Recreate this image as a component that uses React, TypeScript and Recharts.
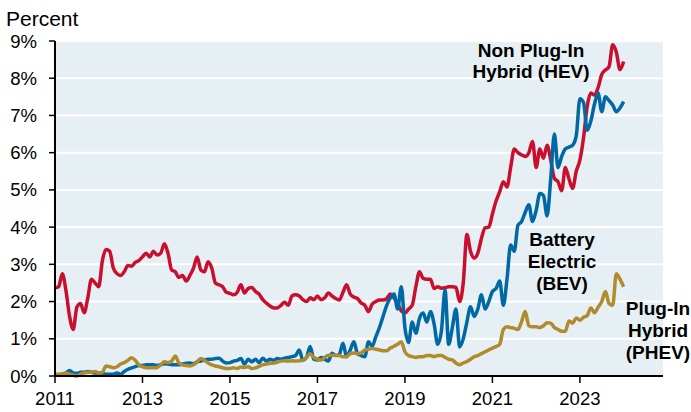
import { LineChart, Line, XAxis, YAxis, CartesianGrid } from 'recharts';

const START_YEAR = 2011;
const yearTicks = [2011, 2013, 2015, 2017, 2019, 2021, 2023];
const pctTicks = [0, 1, 2, 3, 4, 5, 6, 7, 8, 9];

// monthly shares, Jan 2011 onward (percent)
const hev = [
  2.37, 2.4, 2.75, 2.3, 1.6, 1.25, 1.85, 1.95, 1.7, 2.1, 2.6, 2.5,
  2.4, 3.1, 3.4, 3.35, 2.9, 2.75, 2.7, 2.8, 2.97, 2.95, 3.05, 3.1,
  3.2, 3.3, 3.2, 3.35, 3.25, 3.3, 3.55, 3.3, 2.85, 2.8, 2.65, 2.7,
  2.55, 2.7, 2.9, 3.2, 2.85, 2.8, 3.07, 2.9, 2.5, 2.45, 2.4, 2.25,
  2.22, 2.18, 2.25, 2.45, 2.23, 2.35, 2.38, 2.27, 2.2, 2.05, 1.96, 1.88,
  1.83, 1.83, 1.9, 1.98, 1.9, 2.15, 2.18, 2.15, 2.05, 2.0, 2.1, 2.05,
  2.15, 2.05, 2.1, 2.23, 2.15, 2.08, 2.04, 2.25, 2.45, 2.2, 2.12, 2.08,
  1.96, 1.9, 1.73, 1.93, 2.0, 2.04, 2.04, 2.08, 2.2, 2.1, 1.95, 1.75,
  1.69, 1.8, 1.9, 2.4, 2.8, 2.62, 2.6, 2.6, 2.35, 2.4, 2.36, 2.37,
  2.4, 2.4, 2.38, 2.0, 2.5, 3.8, 3.35, 3.17, 3.3, 3.7, 3.98, 4.0,
  4.35, 4.7, 4.95, 5.22, 5.08, 5.6, 6.1, 6.0, 5.94, 5.9, 6.0, 6.3,
  5.6, 6.1, 5.85, 6.2, 5.8, 5.31, 5.22, 4.98, 5.6, 5.3, 5.04, 5.5,
  5.8, 6.4, 7.24, 7.6, 7.55, 7.75, 8.1, 8.22, 8.31, 8.9, 8.7, 8.23,
  8.45,
];

const bev = [
  0.02, 0.02, 0.03, 0.08, 0.15, 0.08, 0.07, 0.1, 0.1, 0.12, 0.1, 0.08,
  0.08, 0.06, 0.05, 0.05, 0.05, 0.08, 0.05, 0.12, 0.18, 0.22, 0.25, 0.28,
  0.28, 0.3, 0.3, 0.3, 0.28, 0.3, 0.33, 0.32, 0.3, 0.3, 0.3, 0.32,
  0.34, 0.35, 0.33, 0.38, 0.4, 0.43, 0.45, 0.45, 0.47, 0.48, 0.4, 0.35,
  0.36, 0.4, 0.42, 0.47, 0.32, 0.45, 0.38, 0.45, 0.36, 0.48, 0.4, 0.45,
  0.42, 0.47, 0.45, 0.48, 0.5, 0.52, 0.55, 0.7, 0.43, 0.5, 0.79, 0.45,
  0.43, 0.5, 0.45, 0.4, 0.61, 0.55, 0.58, 0.88, 0.52, 0.7, 0.92, 0.6,
  0.55, 0.52, 0.92, 0.8, 1.05, 1.3, 1.6, 1.9, 2.1, 2.2, 1.8, 2.4,
  1.3, 0.9, 1.45, 1.15, 1.55, 1.69, 1.45, 1.73, 1.4, 0.85, 1.2, 2.31,
  0.85, 1.3, 1.8, 0.78, 1.0, 1.45, 1.86, 1.6, 1.8, 2.18, 1.8, 2.0,
  2.27, 2.35, 2.55, 1.9, 2.6, 3.52, 3.35, 4.05, 4.15, 4.4, 4.6, 4.15,
  4.45, 4.9, 4.85, 4.3, 5.3, 6.5, 5.6, 5.9, 6.1, 6.15, 6.2, 6.45,
  7.45, 7.35, 6.6, 6.85, 7.3, 7.6, 7.1, 7.5, 7.4, 7.28, 7.1, 7.2,
  7.37,
];

const phev = [
  0.05, 0.05, 0.06, 0.08, 0.05, 0.02, 0.0, 0.05, 0.08, 0.1, 0.1, 0.12,
  0.08, 0.1, 0.27, 0.25, 0.22, 0.25, 0.32, 0.36, 0.42, 0.49, 0.42, 0.3,
  0.25, 0.22, 0.22, 0.22, 0.23, 0.3, 0.38, 0.36, 0.4, 0.54, 0.35, 0.3,
  0.28, 0.27, 0.3, 0.38, 0.47, 0.42, 0.35, 0.3, 0.27, 0.25, 0.22, 0.2,
  0.2, 0.22, 0.2, 0.24, 0.23, 0.25, 0.2, 0.22, 0.26, 0.3, 0.32, 0.34,
  0.35, 0.37, 0.4, 0.41, 0.4, 0.41, 0.4, 0.41, 0.42, 0.5, 0.6, 0.5,
  0.45, 0.43, 0.5, 0.56, 0.55, 0.56, 0.55, 0.52, 0.52, 0.6, 0.62, 0.6,
  0.62, 0.7, 0.72, 0.74, 0.72, 0.7, 0.68, 0.68, 0.75, 0.8, 0.85, 0.92,
  0.65, 0.55, 0.52, 0.5, 0.52, 0.52, 0.55, 0.55, 0.52, 0.55, 0.55, 0.5,
  0.45, 0.43, 0.35, 0.3, 0.35, 0.39, 0.45, 0.52, 0.55, 0.6, 0.65, 0.7,
  0.75, 0.79, 0.85, 1.25, 1.32, 1.3, 1.28, 1.25, 1.46, 1.73, 1.35, 1.32,
  1.32, 1.3, 1.35, 1.43, 1.42, 1.3, 1.25, 1.2, 1.2, 1.48, 1.42, 1.56,
  1.5, 1.58, 1.62, 1.83, 1.7, 1.85, 2.0, 2.27, 1.95, 1.9, 2.75, 2.6,
  2.4,
];

const data = hev.map((v, i) => ({
  t: START_YEAR + i / 12,
  hev: v,
  bev: bev[i],
  phev: phev[i],
}));

const FONT = '"Liberation Sans", Arial, sans-serif';

export default function App() {
  return (
    <div style={{ position: 'absolute', left: 0, top: 0, width: 691, height: 412, background: '#fff', fontFamily: FONT }}>
      <LineChart width={691} height={412} data={data} margin={{ top: 41, right: 28, bottom: 0, left: 0 }}>
        <CartesianGrid vertical={false} stroke="#fff" strokeWidth={2} fill="#E6EFF3" />
        <XAxis
          dataKey="t"
          type="number"
          domain={[2011, 2024.9]}
          ticks={yearTicks}
          allowDataOverflow
          height={36}
          tickSize={7}
          tickMargin={9}
          axisLine={{ stroke: '#000', strokeWidth: 2 }}
          tickLine={{ stroke: '#000', strokeWidth: 1.5 }}
          tick={{ fill: '#000', fontSize: 18.5, fontFamily: FONT }}
        />
        <YAxis
          type="number"
          domain={[0, 9]}
          ticks={pctTicks}
          width={55}
          tickSize={6}
          tickMargin={12}
          tickFormatter={(v) => `${v}%`}
          axisLine={{ stroke: '#000', strokeWidth: 2 }}
          tickLine={{ stroke: '#000', strokeWidth: 1.5 }}
          tick={{ fill: '#000', fontSize: 18.5, fontFamily: FONT }}
        />
        <Line type="monotone" dataKey="hev" stroke="#C8102E" strokeWidth={3.5} dot={false} isAnimationActive={false} />
        <Line type="monotone" dataKey="bev" stroke="#0068A5" strokeWidth={3.5} dot={false} isAnimationActive={false} />
        <Line type="monotone" dataKey="phev" stroke="#B08B2E" strokeWidth={3.5} dot={false} isAnimationActive={false} />
      </LineChart>

      {/* Axis unit and series labels */}
      <svg width={691} height={412} style={{ position: 'absolute', left: 0, top: 0, pointerEvents: 'none' }}>
        <text x={6} y={26} fontSize={21} fill="#000" fontFamily={FONT}>Percent</text>
        <g fontSize={19} fontWeight="bold" fill="#000" textAnchor="middle" fontFamily={FONT}>
          <text x={531} y={57}>Non Plug-In</text>
          <text x={531} y={78}>Hybrid (HEV)</text>
          <text x={562} y={246}>Battery</text>
          <text x={562} y={268}>Electric</text>
          <text x={562} y={290}>(BEV)</text>
          <text x={658} y={315}>Plug-In</text>
          <text x={658} y={337}>Hybrid</text>
          <text x={658} y={359}>(PHEV)</text>
        </g>
      </svg>
    </div>
  );
}
